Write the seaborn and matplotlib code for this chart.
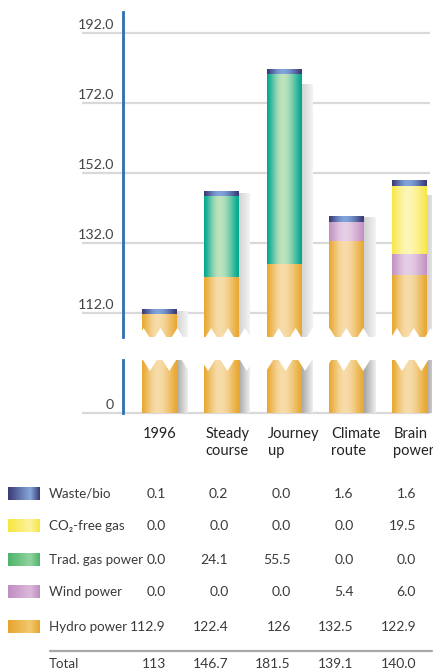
import numpy as np
import pandas as pd
import matplotlib
matplotlib.use("Agg")
import matplotlib.pyplot as plt
import seaborn as sns
from matplotlib.colors import to_rgb
from matplotlib.patches import Polygon
from matplotlib.transforms import blended_transform_factory, offset_copy

# ---- data -------------------------------------------------------------
scenarios = ["1996", "Steady course", "Journey up", "Climate route", "Brain power"]
header_labels = ["1996", "Steady\ncourse", "Journey\nup", "Climate\nroute", "Brain\npower"]

hydro_power = [112.9, 122.4, 126.0, 132.5, 122.9]
wind_power = [0.0, 0.0, 0.0, 5.4, 6.0]
trad_gas_power = [0.0, 24.1, 55.5, 0.0, 0.0]
co2_free_gas = [0.0, 0.0, 0.0, 0.0, 19.5]
waste_bio = [0.1, 0.2, 0.0, 1.6, 1.6]

hydro_labels = ["112.9", "122.4", "126", "132.5", "122.9"]
total_labels = ["113", "146.7", "181.5", "139.1", "140.0"]

upper_ticks = [112, 132, 152, 172, 192]
lower_ticks = [0]

# ---- styles -----------------------------------------------------------
W, H, DPI = 433, 670, 100
BAR_W = 0.544
TEXT = "#3a3a3a"
GRID = "#d9d9d9"
AXIS_BLUE = "#2f6db3"

# stack order bottom -> top: (legend name, values, bar edge, bar centre, swatch edge, swatch centre)
layers = [
    ("Hydro power", hydro_power, "#e8a832", "#f7dcaa", "#e6a52e", "#f2c870"),
    ("Wind power", wind_power, "#c392c3", "#e6cfe6", "#c08ec0", "#dcb8dc"),
    ("Trad. gas power", trad_gas_power, "#00a88f", "#bfe3bd", "#4db56b", "#92d3a0"),
    ("CO\u2082-free gas", co2_free_gas, "#f8e74a", "#fdf6b6", "#f7e640", "#fcf2a0"),
    ("Waste/bio", waste_bio, "#3b3a78", "#7fa3da", "#3b3a78", "#86a8dc"),
]
CAP = 1.15                                  # thin navy lid on every stack
shadow_drop = [0.6, 0.5, 4.3, 0.3, 4.3]     # how far each drop shadow sits below its bar top

sns.set_theme(style="white")
plt.rcParams["font.family"] = ["Lato", "DejaVu Sans"]

fig = plt.figure(figsize=(W / DPI, H / DPI), dpi=DPI)
fig.patch.set_facecolor("white")


def px_axes(left, top, right, bottom):
    return fig.add_axes([left / W, 1 - bottom / H, (right - left) / W, (bottom - top) / H])


ax_hi = px_axes(123, 12, 432, 337)
ax_lo = px_axes(123, 360, 432, 413)
XMIN, XMAX = -0.573, 4.367


def hgrad(ax, x0, x1, y0, y1, edge, centre, z, peak=0.45, n=96):
    t = np.linspace(0, 1, n)
    w = np.where(t < peak, t / peak, (1 - t) / (1 - peak))
    w = np.sin(w * np.pi / 2) ** 1.3
    e, c = np.array(to_rgb(edge)), np.array(to_rgb(centre))
    img = e[None, :] * (1 - w[:, None]) + c[None, :] * w[:, None]
    ax.imshow(img[None, :, :], extent=(x0, x1, y0, y1), aspect="auto",
              interpolation="bilinear", origin="lower", zorder=z)


def shade(ax, x0, x1, y0, y1, dark, light, z):
    t = np.linspace(0, 1, 64)
    d, l = np.array(to_rgb(dark)), np.array(to_rgb(light))
    img = d[None, :] * (1 - t[:, None]) + l[None, :] * t[:, None]
    ax.imshow(img[None, :, :], extent=(x0, x1, y0, y1), aspect="auto",
              interpolation="bilinear", origin="lower", zorder=z)


cum = np.cumsum(np.array([l[1] for l in layers]), axis=0)
stack_top = cum[-1]

for ax, ylim, shadow_cols in [(ax_hi, (105.14, 198.0), ("#d0d0d0", "#f4f4f4")),
                              (ax_lo, (0, 53 / 3.5), ("#a3a3a3", "#efefef"))]:
    prev = np.zeros(len(scenarios))
    for k, (name, vals, edge, centre, _, _) in enumerate(layers):
        sns.barplot(x=scenarios, y=cum[k], order=scenarios, ax=ax, width=BAR_W,
                    color=edge, saturation=1, errorbar=None)
        bars = ax.patches[-len(scenarios):]
        for i, p in enumerate(bars):
            p.set_visible(False)
            x0, w, top = p.get_x(), p.get_width(), p.get_height()
            if top - prev[i] > 0:
                hgrad(ax, x0, x0 + w, prev[i], top, edge, centre, z=2 + 0.01 * k)
        prev = cum[k].copy()

    for i, p in enumerate(ax.patches[-len(scenarios):]):
        x0, w = p.get_x(), p.get_width()
        # navy lid on top of each stack
        name, vals, edge, centre, _, _ = layers[-1]
        hgrad(ax, x0, x0 + w, stack_top[i] - max(CAP, waste_bio[i]), stack_top[i], edge, centre, z=2.2)
        # soft drop shadow to the right
        shade(ax, x0 + w, x0 + w + 0.19, 0, stack_top[i] - shadow_drop[i], *shadow_cols, z=1.5)

    ax.set_xlim(XMIN, XMAX)
    ax.set_ylim(*ylim)
    ax.set_autoscale_on(False)
    ax.set_xticks([])
    ax.set_yticks([])
    ax.set_xlabel("")
    ax.set_ylabel("")
    ax.set_facecolor("none")
    for s in ("top", "right", "bottom"):
        ax.spines[s].set_visible(False)
    ax.spines["left"].set_color(AXIS_BLUE)
    ax.spines["left"].set_linewidth(2)
    ax.spines["left"].set_zorder(6)

# gridlines reaching out under the tick labels, with labels sitting on them
for ax, ticks, fmt in [(ax_hi, upper_ticks, "{:.1f}"), (ax_lo, lower_ticks, "{:d}")]:
    tr = blended_transform_factory(ax.transAxes, ax.transData)
    for v in ticks:
        ax.plot([-0.133, 0.995], [v, v], transform=tr, color=GRID, lw=1.6,
                clip_on=False, zorder=1, solid_capstyle="butt")
        ax.text(-0.029, v, fmt.format(v), transform=offset_copy(tr, fig=fig, y=3, units="points"),
                ha="right", va="baseline", fontsize=10.3, color="#454545")

# torn edges at the axis break
def teeth(ax, period, half, depth_px, height_px, at_top, phase):
    xs = np.arange(XMIN + phase, XMAX, period)
    h = depth_px / height_px
    base = 1.0 if at_top else 0.0
    tip = base - h if at_top else base + h
    pts = [(XMIN - 0.05, base)]
    for c in xs:
        pts += [(c - half, base), (c, tip), (c + half, base)]
    pts.append((XMAX + 0.05, base))
    if at_top:
        pts += [(XMAX + 0.05, 1.05), (XMIN - 0.05, 1.05)]
    else:
        pts += [(XMAX + 0.05, -0.05), (XMIN - 0.05, -0.05)]
    tr = blended_transform_factory(ax.transData, ax.transAxes)
    ax.add_patch(Polygon(pts, closed=True, transform=tr, facecolor="white",
                         edgecolor="none", zorder=4, clip_on=False))


teeth(ax_hi, 0.27, 0.09, 9, 325, at_top=False, phase=0.06)
teeth(ax_lo, 0.31, 0.11, 11, 53, at_top=True, phase=0.12)

# ---- table beneath the chart ------------------------------------------
tab = fig.add_axes([0, 0, 1, 1], zorder=-1)
tab.set_xlim(0, W)
tab.set_ylim(H, 0)
tab.axis("off")
col_tr = blended_transform_factory(ax_hi.transData, tab.transData)

for i, lab in enumerate(header_labels):
    tab.text(i - 0.25, 427, lab, transform=col_tr, ha="left", va="top",
             fontsize=10.5, color="#222222", linespacing=1.3)

row_y = {"Waste/bio": 494, "CO\u2082-free gas": 526, "Trad. gas power": 560,
         "Wind power": 592, "Hydro power": 627}

for name, vals, _, _, sw_edge, sw_centre in layers:
    y = row_y[name]
    t = np.linspace(0, 1, 64)
    w = np.where(t < 0.7, t / 0.7, (1 - t) / 0.3)
    e, c = np.array(to_rgb(sw_edge)), np.array(to_rgb(sw_centre))
    img = e[None, :] * (1 - w[:, None]) + c[None, :] * w[:, None]
    tab.imshow(img[None, :, :], extent=(8, 40, y + 6.5, y - 6.5), aspect="auto",
               interpolation="bilinear")
    tab.text(49, y, name, ha="left", va="center", fontsize=9.6, color=TEXT)
    labels = hydro_labels if name == "Hydro power" else [f"{v:.1f}" for v in vals]
    for i, s in enumerate(labels):
        tab.text(i + 0.112, y, s, transform=col_tr, ha="right", va="center",
                 fontsize=10, color=TEXT)

tab.plot([50, 432], [651, 651], color="#a8a8a8", lw=1.6)
tab.text(49, 664, "Total", ha="left", va="center", fontsize=9.6, color=TEXT)
for i, s in enumerate(total_labels):
    tab.text(i + 0.112, 664, s, transform=col_tr, ha="right", va="center",
             fontsize=10, color=TEXT)
tab.set_xlim(0, W)
tab.set_ylim(H, 0)

fig.savefig("out.png", dpi=DPI, facecolor="white")
